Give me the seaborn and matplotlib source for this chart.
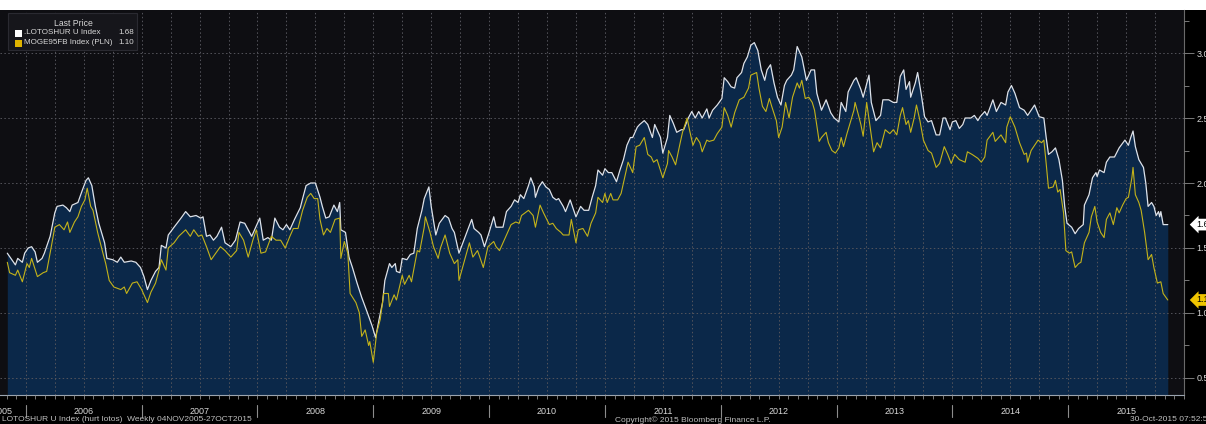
import numpy as np
import pandas as pd
import matplotlib
matplotlib.use("Agg")
import matplotlib.pyplot as plt
import seaborn as sns
from matplotlib import font_manager
from matplotlib.patches import Rectangle

# ─────────────────────────────────────────
# DATA (weekly closes, decimal years)
# ─────────────────────────────────────────

lotos_years = [
    2005.84, 2005.91, 2005.93, 2005.97, 2005.99,
    2006.02, 2006.05, 2006.08, 2006.10, 2006.14, 2006.16, 2006.21, 2006.25, 2006.27, 2006.32,
    2006.35, 2006.38, 2006.40, 2006.45, 2006.49, 2006.52, 2006.54, 2006.57, 2006.60, 2006.63,
    2006.68, 2006.70, 2006.75, 2006.79, 2006.82, 2006.85, 2006.91, 2006.95, 2006.99,
    2007.02, 2007.05, 2007.08, 2007.12, 2007.15, 2007.17, 2007.21, 2007.23, 2007.28, 2007.34,
    2007.38, 2007.42, 2007.47, 2007.51, 2007.53, 2007.56, 2007.59, 2007.62, 2007.65, 2007.69,
    2007.72, 2007.77, 2007.81, 2007.85, 2007.89, 2007.92, 2007.95, 2007.98,
    2008.02, 2008.05, 2008.09, 2008.12, 2008.15, 2008.19, 2008.22, 2008.25, 2008.28, 2008.32,
    2008.37, 2008.39, 2008.42, 2008.46, 2008.50, 2008.54, 2008.56, 2008.59, 2008.62, 2008.66,
    2008.69, 2008.71, 2008.72, 2008.76, 2008.79, 2008.82, 2008.86, 2008.90, 2008.95, 2008.99,
    2009.02, 2009.05, 2009.08, 2009.10, 2009.14, 2009.16, 2009.19, 2009.20, 2009.23, 2009.25,
    2009.29, 2009.32, 2009.35, 2009.38, 2009.42, 2009.44, 2009.48, 2009.50, 2009.54, 2009.57,
    2009.62, 2009.65, 2009.68, 2009.70, 2009.74, 2009.79, 2009.82, 2009.85, 2009.87, 2009.91,
    2009.93, 2009.96,
    2010.00, 2010.04, 2010.06, 2010.12, 2010.15, 2010.19, 2010.22, 2010.25, 2010.27, 2010.30,
    2010.34, 2010.36, 2010.39, 2010.40, 2010.43, 2010.46, 2010.49, 2010.52, 2010.55, 2010.58,
    2010.60, 2010.64, 2010.66, 2010.70, 2010.75, 2010.79, 2010.82, 2010.86, 2010.89, 2010.92,
    2010.94, 2010.98,
    2011.00, 2011.03, 2011.06, 2011.10, 2011.13, 2011.16, 2011.19, 2011.22, 2011.24, 2011.28,
    2011.30, 2011.34, 2011.37, 2011.41, 2011.43, 2011.48, 2011.50, 2011.54, 2011.56, 2011.59,
    2011.62, 2011.66, 2011.68, 2011.72, 2011.75, 2011.78, 2011.81, 2011.84, 2011.88, 2011.90,
    2011.93, 2011.97,
    2012.01, 2012.03, 2012.06, 2012.09, 2012.12, 2012.14, 2012.18, 2012.20, 2012.23, 2012.26,
    2012.29, 2012.32, 2012.35, 2012.38, 2012.40, 2012.43, 2012.46, 2012.49, 2012.52, 2012.55,
    2012.57, 2012.61, 2012.63, 2012.66, 2012.70, 2012.74, 2012.78, 2012.81, 2012.83, 2012.87,
    2012.91, 2012.95, 2012.98,
    2013.02, 2013.04, 2013.08, 2013.10, 2013.15, 2013.17, 2013.21, 2013.23, 2013.28, 2013.30,
    2013.34, 2013.38, 2013.40, 2013.45, 2013.49, 2013.52, 2013.55, 2013.58, 2013.60, 2013.63,
    2013.64, 2013.68, 2013.70, 2013.73, 2013.76, 2013.79, 2013.82, 2013.86, 2013.89, 2013.92,
    2013.94, 2013.98,
    2014.00, 2014.03, 2014.06, 2014.09, 2014.11, 2014.16, 2014.19, 2014.22, 2014.24, 2014.28,
    2014.30, 2014.35, 2014.38, 2014.42, 2014.46, 2014.48, 2014.51, 2014.54, 2014.58, 2014.62,
    2014.65, 2014.68, 2014.71, 2014.75, 2014.79, 2014.81, 2014.83, 2014.86, 2014.89, 2014.92,
    2014.95, 2014.97, 2014.99,
    2015.03, 2015.06, 2015.09, 2015.13, 2015.14, 2015.18, 2015.21, 2015.24, 2015.25, 2015.27,
    2015.31, 2015.33, 2015.36, 2015.40, 2015.44, 2015.49, 2015.52, 2015.54, 2015.56, 2015.58,
    2015.61, 2015.65, 2015.67, 2015.69, 2015.72, 2015.74, 2015.76, 2015.78, 2015.79, 2015.80,
    2015.82, 2015.86,
]
lotos_price = [
    1.46, 1.37, 1.42, 1.39, 1.46,
    1.50, 1.51, 1.47, 1.39, 1.42, 1.46, 1.59, 1.77, 1.82, 1.83,
    1.81, 1.78, 1.83, 1.85, 1.95, 2.02, 2.04, 1.98, 1.82, 1.69,
    1.54, 1.42, 1.41, 1.39, 1.43, 1.39, 1.40, 1.39, 1.35,
    1.28, 1.18, 1.25, 1.32, 1.35, 1.52, 1.50, 1.60, 1.66, 1.73,
    1.78, 1.74, 1.75, 1.73, 1.74, 1.59, 1.60, 1.56, 1.59, 1.66,
    1.54, 1.51, 1.56, 1.70, 1.69, 1.64, 1.59, 1.65,
    1.73, 1.56, 1.58, 1.56, 1.73, 1.66, 1.64, 1.68, 1.64, 1.72,
    1.81, 1.88, 1.98, 2.00, 2.00, 1.89, 1.82, 1.73, 1.74, 1.83,
    1.78, 1.85, 1.64, 1.62, 1.43, 1.35, 1.23, 1.12, 1.00, 0.90,
    0.81, 0.95, 1.08, 1.25, 1.38, 1.35, 1.38, 1.32, 1.31, 1.42,
    1.41, 1.45, 1.46, 1.65, 1.79, 1.88, 1.97, 1.82, 1.60, 1.69,
    1.75, 1.73, 1.65, 1.62, 1.46, 1.58, 1.65, 1.72, 1.65, 1.62,
    1.60, 1.51,
    1.62, 1.74, 1.66, 1.66, 1.78, 1.82, 1.87, 1.85, 1.91, 1.88,
    1.98, 2.04, 1.97, 1.89, 1.97, 2.01, 1.97, 1.95, 1.89, 1.87,
    1.88, 1.82, 1.78, 1.87, 1.74, 1.82, 1.79, 1.79, 1.89, 1.98,
    2.10, 2.06,
    2.11, 2.08, 2.08, 2.01, 2.10, 2.18, 2.29, 2.35, 2.35, 2.43,
    2.45, 2.48, 2.45, 2.35, 2.45, 2.35, 2.23, 2.35, 2.52, 2.46,
    2.39, 2.41, 2.41, 2.50, 2.55, 2.50, 2.55, 2.50, 2.57, 2.50,
    2.56, 2.60,
    2.65, 2.81, 2.78, 2.74, 2.73, 2.81, 2.85, 2.92, 2.97, 3.06,
    3.08, 3.02, 2.87, 2.79, 2.87, 2.91, 2.77, 2.66, 2.60, 2.75,
    2.79, 2.83, 2.87, 3.05, 2.97, 2.79, 2.87, 2.87, 2.69, 2.56,
    2.64, 2.54, 2.50,
    2.47, 2.62, 2.55, 2.70, 2.79, 2.81, 2.72, 2.66, 2.83, 2.62,
    2.48, 2.52, 2.64, 2.64, 2.62, 2.62, 2.82, 2.87, 2.72, 2.78,
    2.66, 2.77, 2.85, 2.69, 2.51, 2.47, 2.48, 2.37, 2.37, 2.50,
    2.50, 2.41,
    2.47, 2.48, 2.42, 2.45, 2.50, 2.50, 2.52, 2.48, 2.51, 2.55,
    2.52, 2.64, 2.55, 2.62, 2.60, 2.70, 2.75, 2.69, 2.58, 2.56,
    2.52, 2.56, 2.60, 2.51, 2.50, 2.35, 2.22, 2.24, 2.27, 2.18,
    2.02, 1.82, 1.69,
    1.66, 1.61, 1.65, 1.68, 1.83, 1.91, 2.04, 2.08, 2.05, 2.10,
    2.08, 2.16, 2.20, 2.20, 2.27, 2.33, 2.29, 2.35, 2.40, 2.28,
    2.18, 2.12, 2.00, 1.82, 1.85, 1.82, 1.75, 1.78, 1.74, 1.78,
    1.68, 1.68,
]

moge_years = [
    2005.84, 2005.86, 2005.91, 2005.93, 2005.97,
    2006.01, 2006.03, 2006.05, 2006.10, 2006.15, 2006.18, 2006.22, 2006.25, 2006.29, 2006.33,
    2006.36, 2006.38, 2006.42, 2006.45, 2006.48, 2006.51, 2006.53, 2006.56, 2006.58, 2006.62,
    2006.66, 2006.69, 2006.72, 2006.76, 2006.82, 2006.85, 2006.87, 2006.92, 2006.96,
    2007.00, 2007.05, 2007.08, 2007.12, 2007.15, 2007.17, 2007.21, 2007.23, 2007.28, 2007.32,
    2007.38, 2007.42, 2007.45, 2007.49, 2007.52, 2007.56, 2007.60, 2007.64, 2007.68, 2007.72,
    2007.77, 2007.82, 2007.84, 2007.88, 2007.92, 2007.96, 2007.99,
    2008.03, 2008.07, 2008.12, 2008.16, 2008.20, 2008.24, 2008.28, 2008.31, 2008.35, 2008.39,
    2008.43, 2008.46, 2008.49, 2008.52, 2008.54, 2008.57, 2008.60, 2008.63, 2008.67, 2008.71,
    2008.72, 2008.75, 2008.78, 2008.80, 2008.85, 2008.88, 2008.90, 2008.93, 2008.96, 2008.97,
    2009.00, 2009.03, 2009.06, 2009.09, 2009.13, 2009.14, 2009.18, 2009.20, 2009.25, 2009.27,
    2009.31, 2009.33, 2009.38, 2009.40, 2009.44, 2009.45, 2009.49, 2009.52, 2009.56, 2009.58,
    2009.62, 2009.66, 2009.70, 2009.73, 2009.74, 2009.79, 2009.83, 2009.86, 2009.90, 2009.92,
    2009.95, 2009.99,
    2010.04, 2010.06, 2010.09, 2010.12, 2010.16, 2010.19, 2010.23, 2010.26, 2010.28, 2010.34,
    2010.38, 2010.40, 2010.44, 2010.47, 2010.52, 2010.55, 2010.58, 2010.62, 2010.64, 2010.69,
    2010.71, 2010.75, 2010.77, 2010.81, 2010.85, 2010.88, 2010.92, 2010.94, 2010.98,
    2011.00, 2011.02, 2011.05, 2011.07, 2011.11, 2011.14, 2011.17, 2011.20, 2011.24, 2011.27,
    2011.30, 2011.34, 2011.37, 2011.40, 2011.42, 2011.45, 2011.50, 2011.54, 2011.55, 2011.58,
    2011.61, 2011.65, 2011.67, 2011.71, 2011.73, 2011.76, 2011.79, 2011.82, 2011.84, 2011.88,
    2011.90, 2011.94, 2011.97,
    2012.01, 2012.03, 2012.06, 2012.09, 2012.12, 2012.16, 2012.20, 2012.24, 2012.26, 2012.31,
    2012.33, 2012.36, 2012.39, 2012.42, 2012.44, 2012.48, 2012.50, 2012.53, 2012.56, 2012.59,
    2012.62, 2012.66, 2012.68, 2012.70, 2012.73, 2012.76, 2012.79, 2012.81, 2012.85, 2012.87,
    2012.91, 2012.93, 2012.96, 2012.99,
    2013.02, 2013.04, 2013.06, 2013.09, 2013.12, 2013.15, 2013.16, 2013.19, 2013.21, 2013.23,
    2013.26, 2013.29, 2013.32, 2013.35, 2013.38, 2013.42, 2013.46, 2013.49, 2013.52, 2013.55,
    2013.57, 2013.60, 2013.62, 2013.64, 2013.67, 2013.69, 2013.72, 2013.75, 2013.79, 2013.82,
    2013.86, 2013.89, 2013.93, 2013.96, 2013.99,
    2014.02, 2014.06, 2014.11, 2014.13, 2014.17, 2014.22, 2014.25, 2014.28, 2014.30, 2014.35,
    2014.37, 2014.42, 2014.46, 2014.47, 2014.50, 2014.54, 2014.58, 2014.62, 2014.64, 2014.65,
    2014.68, 2014.71, 2014.74, 2014.77, 2014.79, 2014.81, 2014.83, 2014.87, 2014.89, 2014.91,
    2014.93, 2014.96, 2014.98,
    2015.01, 2015.03, 2015.06, 2015.09, 2015.11, 2015.14, 2015.18, 2015.20, 2015.23, 2015.25,
    2015.28, 2015.31, 2015.33, 2015.36, 2015.39, 2015.42, 2015.44, 2015.47, 2015.50, 2015.52,
    2015.55, 2015.56, 2015.58, 2015.61, 2015.63, 2015.66, 2015.69, 2015.72, 2015.74, 2015.77,
    2015.80, 2015.82, 2015.86,
]
moge_price = [
    1.39, 1.31, 1.29, 1.33, 1.24,
    1.38, 1.35, 1.42, 1.28, 1.31, 1.32, 1.51, 1.66, 1.68, 1.64,
    1.70, 1.62, 1.70, 1.74, 1.82, 1.87, 1.96, 1.82, 1.79, 1.62,
    1.48, 1.38, 1.25, 1.20, 1.18, 1.20, 1.15, 1.23, 1.24,
    1.18, 1.08, 1.16, 1.23, 1.33, 1.41, 1.33, 1.50, 1.54, 1.59,
    1.64, 1.59, 1.64, 1.59, 1.60, 1.51, 1.41, 1.46, 1.51, 1.48,
    1.43, 1.48, 1.62, 1.56, 1.43, 1.56, 1.64,
    1.46, 1.47, 1.59, 1.56, 1.56, 1.50, 1.59, 1.65, 1.65, 1.79,
    1.89, 1.92, 1.88, 1.88, 1.72, 1.60, 1.65, 1.62, 1.72, 1.73,
    1.42, 1.55, 1.46, 1.15, 1.08, 1.00, 0.82, 0.87, 0.75, 0.78,
    0.62, 0.85, 0.95, 1.15, 1.15, 1.05, 1.14, 1.10, 1.29, 1.22,
    1.29, 1.24, 1.48, 1.47, 1.66, 1.74, 1.62, 1.51, 1.42, 1.50,
    1.60, 1.46, 1.38, 1.41, 1.25, 1.41, 1.54, 1.43, 1.48, 1.43,
    1.35, 1.51,
    1.55, 1.51, 1.48, 1.54, 1.62, 1.68, 1.70, 1.69, 1.75, 1.79,
    1.75, 1.66, 1.83, 1.77, 1.68, 1.69, 1.65, 1.62, 1.60, 1.60,
    1.72, 1.54, 1.64, 1.65, 1.59, 1.69, 1.77, 1.89, 1.85,
    1.92, 1.85, 1.92, 1.87, 1.87, 1.92, 2.04, 2.16, 2.08, 2.28,
    2.29, 2.35, 2.22, 2.20, 2.16, 2.18, 2.04, 2.15, 2.25, 2.20,
    2.14, 2.31, 2.39, 2.50, 2.41, 2.29, 2.35, 2.31, 2.24, 2.33,
    2.32, 2.33, 2.38,
    2.43, 2.58, 2.52, 2.43, 2.54, 2.64, 2.66, 2.73, 2.83, 2.85,
    2.73, 2.59, 2.55, 2.65, 2.59, 2.48, 2.35, 2.43, 2.62, 2.50,
    2.66, 2.77, 2.73, 2.79, 2.65, 2.66, 2.62, 2.56, 2.32, 2.35,
    2.39, 2.31, 2.25, 2.23,
    2.27, 2.35, 2.28, 2.38, 2.47, 2.56, 2.62, 2.52, 2.45, 2.36,
    2.62, 2.43, 2.24, 2.31, 2.27, 2.41, 2.38, 2.41, 2.37, 2.52,
    2.58, 2.45, 2.48, 2.39, 2.50, 2.60, 2.48, 2.33, 2.25, 2.23,
    2.12, 2.15, 2.28, 2.22, 2.15,
    2.22, 2.18, 2.16, 2.24, 2.22, 2.19, 2.16, 2.20, 2.33, 2.39,
    2.32, 2.37, 2.31, 2.43, 2.51, 2.43, 2.31, 2.22, 2.23, 2.16,
    2.25, 2.29, 2.33, 2.31, 2.33, 2.15, 1.96, 1.97, 2.02, 1.93,
    1.95, 1.77, 1.48,
    1.46, 1.47, 1.35, 1.38, 1.39, 1.54, 1.62, 1.74, 1.82, 1.70,
    1.62, 1.58, 1.72, 1.77, 1.68, 1.81, 1.77, 1.83, 1.88, 1.89,
    2.04, 2.12, 1.91, 1.85, 1.79, 1.62, 1.41, 1.45, 1.35, 1.23,
    1.24, 1.15, 1.10,
]

year_labels = [2005, 2006, 2007, 2008, 2009, 2010, 2011, 2012, 2013, 2014, 2015]
y_ticks = [0.5, 1.0, 1.5, 2.0, 2.5, 3.0]

lotos = pd.DataFrame({"year": lotos_years, "price": lotos_price})
moge = pd.DataFrame({"year": moge_years, "price": moge_price})

# ─────────────────────────────────────────
# STYLE
# ─────────────────────────────────────────

sns.set_style("dark")
plt.rcParams["font.family"] = ["Liberation Sans", "DejaVu Sans"]

# Bloomberg screens use a narrow face; use Liberation Sans Narrow if it is there
installed = {f.name for f in font_manager.fontManager.ttflist}
NARROW = "Liberation Sans Narrow" if "Liberation Sans Narrow" in installed else "Liberation Sans"
small = 7 if NARROW == "Liberation Sans Narrow" else 5.8

BG = "#000000"
PANEL = "#0e0e12"
NAVY = "#0b2849"
WHITE_LINE = "#dde2ea"
YELLOW_LINE = "#c4b31a"
GRID = "#55555c"
TXT = "#d8d8d8"
TICK = "#8c8c8c"

W, H = 1206, 424
fig = plt.figure(figsize=(W / 100, H / 100), dpi=100, facecolor=BG)
ax = fig.add_axes([0, 1 - 395 / H, 1184 / W, 385 / H], facecolor=PANEL)

# white strip above the panel (cropped Bloomberg title bar)
fig.add_artist(Rectangle((0, 1 - 10 / H), 1, 10 / H, transform=fig.transFigure,
                         facecolor="white", edgecolor="none", zorder=0))

# ─────────────────────────────────────────
# AREA + LINES
# ─────────────────────────────────────────

YMIN, YMAX = 0.369, 3.331
ax.fill_between(lotos["year"], lotos["price"], YMIN, color=NAVY, lw=0, zorder=1)
sns.lineplot(data=lotos, x="year", y="price", ax=ax, color=WHITE_LINE,
             linewidth=0.9, estimator=None, sort=False, zorder=4)
sns.lineplot(data=moge, x="year", y="price", ax=ax, color=YELLOW_LINE,
             linewidth=0.8, estimator=None, sort=False, zorder=5)

ax.set_xlim(2005.777, 2015.923)
ax.set_ylim(YMIN, YMAX)
ax.set_xlabel("")
ax.set_ylabel("")

# ─────────────────────────────────────────
# AXES, GRID, TICKS
# ─────────────────────────────────────────

quarters = np.arange(2006, 2016, 0.25)
months = np.arange(2005 + 10 / 12, 2016, 1 / 12)
ax.set_xticks(quarters)
ax.set_xticks(months, minor=True)
ax.set_xticklabels([])
ax.tick_params(axis="x", which="both", direction="out", length=3, width=0.6,
               color=TICK, bottom=True, labelbottom=False)

ax.yaxis.tick_right()
ax.set_yticks(y_ticks)
ax.set_yticks(np.arange(0.75, 3.3, 0.5), minor=True)
ax.set_yticklabels([f"{v:.1f}" for v in y_ticks])
ax.tick_params(axis="y", which="major", direction="out", length=7, width=0.6,
               color=TICK, labelsize=6.5, labelcolor=TXT, pad=2, right=True, left=False)
ax.tick_params(axis="y", which="minor", direction="out", length=3.5, width=0.6,
               color=TICK, right=True, left=False)

ax.set_axisbelow(False)
ax.grid(True, which="major", axis="both", color=GRID, linestyle=(0, (1.5, 2.5)),
        linewidth=0.7)
ax.grid(False, which="minor")

for side in ["top", "left"]:
    ax.spines[side].set_visible(False)
ax.spines["right"].set_color("#6a6a6a")
ax.spines["right"].set_linewidth(0.8)
ax.spines["bottom"].set_color("#9aa4b0")
ax.spines["bottom"].set_linewidth(0.8)

# year labels centred in each year, with separators between them
xt = ax.get_xaxis_transform()
for yr in year_labels:
    centre = yr + 0.5 if yr > 2005 else 2005.80
    ax.text(centre, -0.042, str(yr), transform=xt, ha="center", va="center",
            fontsize=6.5, color=TXT, clip_on=False, family=NARROW)
    if yr > 2005:
        ax.plot([yr, yr], [-0.026, -0.058], transform=xt, color=TICK,
                linewidth=0.8, clip_on=False)

# last-price tags on the right axis
for price, face in [(lotos_price[-1], "white"), (moge_price[-1], "#f0c400")]:
    ax.annotate(f"{price:.2f}", xy=(1, price), xycoords=ax.get_yaxis_transform(),
                xytext=(12, 0), textcoords="offset pixels", ha="left", va="center",
                fontsize=6.5, color="black", annotation_clip=False,
                bbox=dict(boxstyle="larrow,pad=0.15", fc=face, ec="none"))

# ─────────────────────────────────────────
# LEGEND PANEL
# ─────────────────────────────────────────

def px(x, y):
    return x / W, 1 - y / H

fig.add_artist(Rectangle(px(8, 50), 129 / W, 37 / H, transform=fig.transFigure,
                         facecolor="#16161b", edgecolor="#2a2a31", lw=0.8, zorder=10))
fig.text(*px(73, 24), "Last Price", ha="center", va="center", fontsize=small + 0.4,
         color=TXT, zorder=11, family=NARROW)
legend_rows = [(".LOTOSHUR U Index", lotos_price[-1], "white"),
               ("MOGE95FB Index (PLN)", moge_price[-1], "#e0b400")]
for i, (name, price, col) in enumerate(legend_rows):
    yc = 33 + 10 * i
    fig.add_artist(Rectangle(px(15, yc + 3.5), 7 / W, 7 / H, transform=fig.transFigure,
                             facecolor=col, edgecolor="none", zorder=11))
    fig.text(*px(24, yc), name, ha="left", va="center", fontsize=small, color=TXT,
             zorder=11, family=NARROW)
    fig.text(*px(134, yc), f"{price:.2f}", ha="right", va="center", fontsize=small,
             color=TXT, zorder=11, family=NARROW)

# ─────────────────────────────────────────
# FOOTER
# ─────────────────────────────────────────

fig.text(*px(2, 416), "LOTOSHUR U Index (hurt lotos)  Weekly 04NOV2005-27OCT2015",
         ha="left", va="top", fontsize=6, color="#bfbfbf", family=NARROW)
fig.text(*px(615, 416), "Copyright\u00a9 2015 Bloomberg Finance L.P.",
         ha="left", va="top", fontsize=6, color="#bfbfbf", family=NARROW)
fig.text(*px(1130, 416), "30-Oct-2015 07:52:51",
         ha="left", va="top", fontsize=6, color="#bfbfbf", family=NARROW)

fig.savefig("out.png", dpi=100, facecolor=BG)
